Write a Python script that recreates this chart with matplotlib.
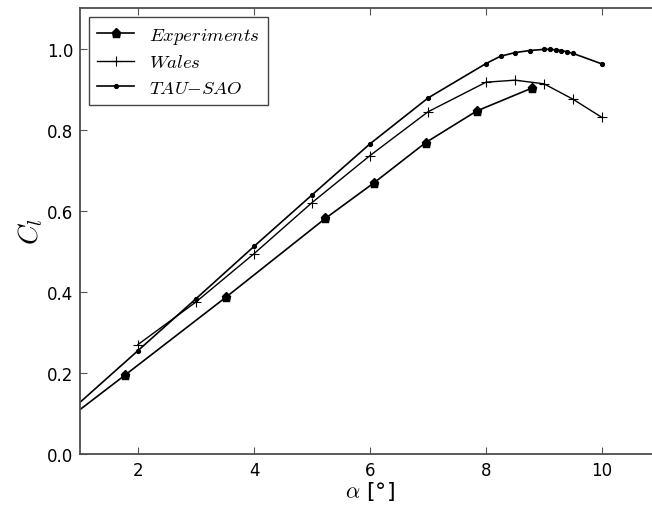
import matplotlib
matplotlib.use("Agg")
import matplotlib.pyplot as plt

# -----------------------------
#  DATA
# -----------------------------
exp_alpha = [0.0, 1.78, 3.51, 5.23, 6.07, 6.96, 7.84, 8.80]
exp_cl = [0.0, 0.195, 0.386, 0.581, 0.669, 0.768, 0.846, 0.903]

wales_alpha = [2.0, 3.0, 4.0, 5.0, 6.0, 7.0, 8.0, 8.5, 9.0, 9.5, 10.0]
wales_cl = [0.270, 0.375, 0.494, 0.620, 0.736, 0.844, 0.917, 0.922, 0.913, 0.875, 0.830]

tau_alpha = [0.0, 2.0, 3.0, 4.0, 5.0, 6.0, 7.0, 8.0, 8.25, 8.5, 8.75,
             9.0, 9.1, 9.2, 9.3, 9.4, 9.5, 10.0]
tau_cl = [0.0, 0.255, 0.383, 0.512, 0.639, 0.765, 0.878, 0.963, 0.981, 0.990, 0.995,
          0.998, 0.998, 0.997, 0.995, 0.992, 0.988, 0.962]

x_ticks = [2, 4, 6, 8, 10]
y_ticks = [0.0, 0.2, 0.4, 0.6, 0.8, 1.0]

plt.rcParams["mathtext.fontset"] = "cm"
plt.rcParams["font.family"] = "DejaVu Sans"

fig = plt.figure(figsize=(6.52, 5.10), dpi=100)
ax = fig.add_axes([80 / 652, 55 / 510, 580 / 652, 446 / 510])

ax.plot(exp_alpha, exp_cl, color="black", lw=1.2, marker="p", ms=6.5,
        label=r"$Experiments$")
ax.plot(wales_alpha, wales_cl, color="black", lw=1.0, marker="+", ms=7, mew=0.8,
        label=r"$Wales$")
ax.plot(tau_alpha, tau_cl, color="black", lw=1.2, marker=".", ms=5.5,
        label=r"$TAU{-}SAO$")

ax.set_xlim(1, 11)
ax.set_ylim(0, 1.1)
ax.set_xticks(x_ticks)
ax.set_yticks(y_ticks)
ax.set_yticklabels([f"{v:.1f}" for v in y_ticks])
ax.tick_params(direction="in", top=True, right=True, length=5, width=0.8,
               color="#555555", labelsize=12, pad=5)
for s in ax.spines.values():
    s.set_color("#4d4d4d")
    s.set_linewidth(1.3)

ax.set_xlabel(r"$\alpha$ [°]", fontsize=16, labelpad=0)
ax.set_ylabel(r"$C_l$", fontsize=20, labelpad=1)

leg = ax.legend(loc="upper left", numpoints=1, fontsize=13.5, fancybox=False,
                borderaxespad=0.5, handlelength=2.0, labelspacing=0.35,
                borderpad=0.4, framealpha=1)
leg.get_frame().set_edgecolor("#444444")
leg.get_frame().set_linewidth(1.0)

fig.savefig("out.png", dpi=100)
